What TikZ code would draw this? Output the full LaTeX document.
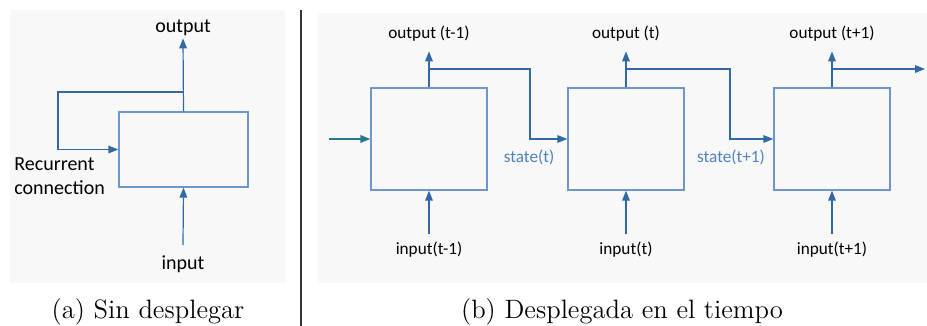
\documentclass[tikz,border=0pt]{standalone}
\usepackage{fontspec}
\newfontfamily\labelfont{Carlito}
\usetikzlibrary{arrows.meta,positioning,calc}
\definecolor{PanelGray}{RGB}{248,248,249}
\definecolor{CellBlue}{RGB}{110,150,205}
\definecolor{FlowBlue}{RGB}{50,105,165}
\definecolor{FeedTeal}{RGB}{40,120,140}
\definecolor{StateBlue}{RGB}{79,129,189}

\begin{document}
\begin{tikzpicture}[x=0.5pt,y=-0.5pt,
  cell/.style={draw=CellBlue,fill=PanelGray,line width=0.6pt,inner sep=0pt},
  flow/.style={-{Triangle[length=5pt,width=3.8pt]},line width=0.6pt,draw=FlowBlue},
  lbl/.style={font=\labelfont\fontsize{10}{12}\selectfont,inner sep=1pt},
  lblb/.style={font=\labelfont\fontsize{8.6}{10}\selectfont,inner sep=1pt},
  caption/.style={font=\fontsize{13.3}{15}\selectfont,inner sep=0pt}]
\useasboundingbox (0,0) rectangle (927,326);
% panels
\fill[PanelGray] (10,10) rectangle (285,283);
\fill[PanelGray] (317,13) rectangle (927,283);
\draw[line width=0.8pt,black!80] (301,10) -- (301,326);

% (a) folded
\node[cell,minimum width=64.5pt,minimum height=37.5pt] (cellA) at (183.5,149.5) {};
\node[lbl] (outA) at (183,28) {output};
\node[lbl] (inA) at (183,264) {input};
\node[lbl,align=left,anchor=west] (recA) at (12,176) {Recurrent\\connection};
\coordinate (splitA) at (183,92);
\coordinate (inAtail) at (183,245);
\draw[flow] (cellA.north) -- (outA.south);
\draw[flow] (inAtail) -- (cellA.south);
\draw[flow] (splitA) -- ++(-125,0) |- (cellA.west);

% (b) unfolded
\node[cell,minimum width=58pt,minimum height=51pt] (cell1) at (429,139) {};
\node[cell,minimum width=58pt,minimum height=51pt] (cell2) at (626,139) {};
\node[cell,minimum width=58pt,minimum height=51pt] (cell3) at (832,139) {};
\node[lblb] (out1) at (429,34) {output (t-1)};
\node[lblb] (out2) at (626,34) {output (t)};
\node[lblb] (out3) at (832,34) {output (t+1)};
\node[lblb] (in1) at (429,250) {input(t-1)};
\node[lblb] (in2) at (626,250) {input(t)};
\node[lblb] (in3) at (832,250) {input(t+1)};
\node[lblb,text=StateBlue] (st1) at (529,157) {state(t)};
\node[lblb,text=StateBlue] (st2) at (731,157) {state(t+1)};
\foreach \i in {1,2,3}{
  \coordinate (tail\i) at ($(cell\i.south)+(0,43)$);
  \draw[flow] (cell\i.north) -- ++(0,-36);
  \draw[flow] (tail\i) -- (cell\i.south);
}
\coordinate (s1) at (429,69);
\coordinate (s2) at (626,69);
\coordinate (s3) at (832,69);
\coordinate (feed) at (329,139);
\coordinate (last) at (925,69);
\draw[-{Triangle[length=5pt,width=3.8pt]},line width=0.7pt,draw=FeedTeal] (feed) -- (cell1.west);
\draw[flow] (s1) -- ++(101,0) |- (cell2.west);
\draw[flow] (s2) -- ++(104,0) |- (cell3.west);
\draw[flow] (s3) -- (last);

% captions
\node[caption] (capA) at (148,312) {(a) Sin desplegar};
\node[caption] (capB) at (622,312) {(b) Desplegada en el tiempo};
\end{tikzpicture}
\end{document}
